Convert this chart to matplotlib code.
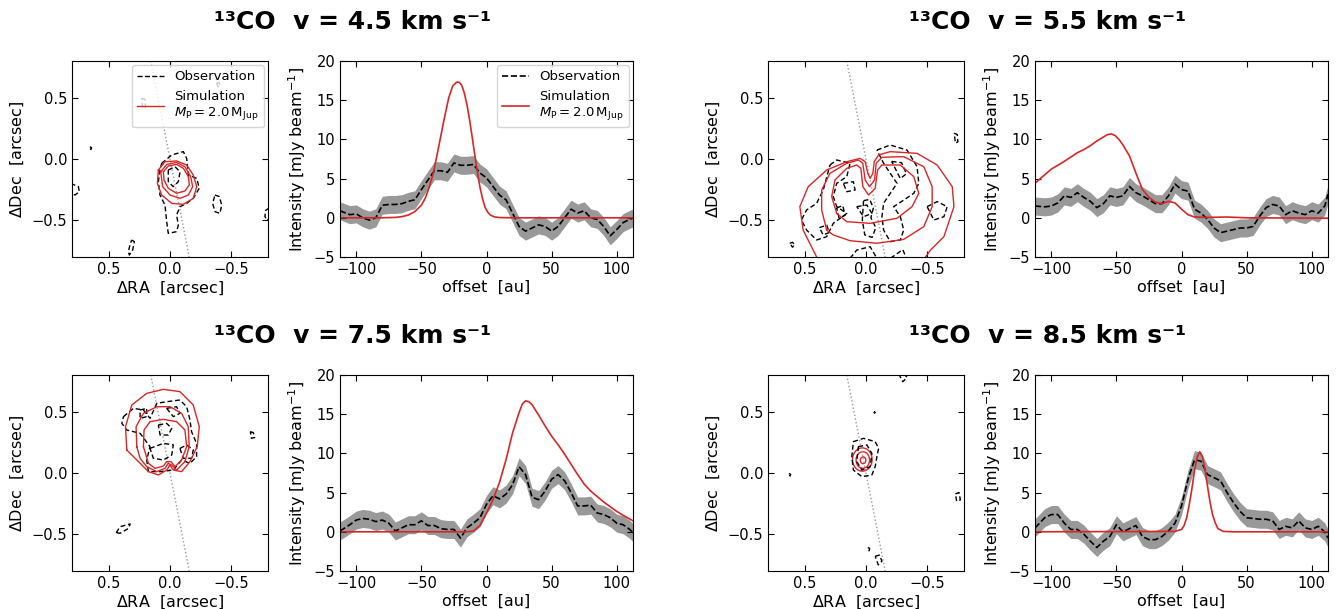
import numpy as np
import matplotlib
matplotlib.use("Agg")
import matplotlib.pyplot as plt
from matplotlib.patches import Ellipse

RED = "#d62728"

# channel velocities (km/s)
velocities = [4.5, 5.5, 7.5, 8.5]

# ---- line profiles along the cut ----
offset = [-112.5, -105, -100, -95, -90, -85, -80, -75, -70, -65, -60, -55, -50, -45,
          -40, -35, -30, -25, -20, -15, -10, -5, 0, 5, 10, 15, 20, 25, 30, 35, 40,
          45, 50, 55, 60, 65, 70, 75, 80, 85, 90, 95, 100, 105, 110, 112.5]
obs_err = 1.15

obs_45 = [0.9, 0.4, 0.5, 0.0, -0.3, 0.0, 1.6, 1.7, 1.7, 1.8, 2.1, 2.3, 3.6, 4.8,
          6.0, 6.0, 5.8, 7.0, 6.7, 6.7, 6.8, 5.7, 5.1, 4.0, 2.9, 2.3, 0.6, -1.1, -1.7, -1.3, -0.9,
          -1.1, -1.7, -1.1, 0.0, 1.1, 0.6, 0.9, 0.0, -0.2, -1.1, -2.3, -1.5, -0.6, -0.2, 0.0]
obs_55 = [1.5, 1.4, 1.5, 1.9, 2.8, 2.6, 3.2, 2.6, 2.1, 1.3, 1.8, 2.8, 2.6, 2.8,
          4.0, 3.2, 2.8, 2.3, 1.8, 1.8, 2.8, 4.3, 3.6, 3.4, 1.1, 0.6, -0.2, -1.3, -1.9, -1.7, -1.5,
          -1.3, -1.3, -1.1, 0.2, 1.3, 1.7, 1.5, 0.4, 0.9, 0.6, 0.4, 0.9, 0.6, 1.5, 3.0]
obs_75 = [0.1, 0.9, 1.5, 1.7, 1.6, 1.3, 1.5, 1.1, 0.1, 0.5, 0.9, 0.9, 1.4, 0.8,
          0.8, 0.4, 0.3, 0.3, -0.8, 0.5, 1.1, 1.8, 3.5, 4.6, 4.2, 4.8, 6.0, 8.3, 7.3, 4.4, 4.1,
          5.2, 6.7, 7.3, 6.5, 5.0, 3.3, 3.3, 3.4, 2.4, 2.2, 1.8, 1.1, 0.9, 0.3, -0.1]
obs_85 = [0.5, 1.8, 2.2, 2.2, 1.1, 0.3, 0.3, -0.3, -1.2, -2.0, -1.2, -0.6, 0.9, 0.0,
          0.4, 0.8, -0.6, -1.0, -1.0, -0.6, 0.1, 1.1, 3.3, 6.7, 9.2, 9.0, 7.3, 6.9, 6.5, 5.0, 3.7,
          2.6, 1.8, 1.7, 1.6, 1.6, 1.4, 0.3, 0.7, 0.5, 1.4, 0.5, 0.3, 0.7, 0.0, -0.8]

sim_x_45 = [-112.5, -80, -70, -65, -60, -55, -50, -47, -44, -41, -38, -35, -32, -29, -26,
            -23, -21, -19, -17, -15, -13, -11, -9, -7, -5, -3, -1, 1, 3, 6, 10, 20, 112.5]
sim_45 = [0, 0, 0.05, 0.15, 0.35, 0.8, 1.6, 2.5, 3.9, 5.6, 8.0, 10.5, 13.0, 15.3, 16.8,
          17.3, 17.3, 16.9, 15.9, 14.4, 12.5, 10.3, 8.0, 5.8, 3.9, 2.4, 1.3, 0.7, 0.35, 0.12,
          0.03, 0, 0]
sim_x_55 = [-112.5, -105, -100, -90, -80, -75, -70, -65, -60, -57, -54, -51, -48, -45,
            -40, -35, -30, -25, -20, -15, -10, -5, 0, 5, 10, 20, 35, 50, 112.5]
sim_55 = [4.4, 5.5, 6.2, 7.2, 8.3, 8.7, 9.2, 9.8, 10.3, 10.6, 10.7, 10.5, 10.0, 9.3,
          7.9, 5.7, 3.6, 2.6, 2.0, 1.8, 2.1, 1.9, 1.1, 0.4, 0.1, 0.05, 0.1, 0.0, -0.05]
sim_x_75 = [-112.5, -15, -10, -5, 0, 5, 10, 15, 20, 25, 27.5, 30, 32.5, 35, 40, 45, 50,
            55, 60, 65, 70, 75, 80, 85, 90, 95, 100, 105, 112.5]
sim_75 = [0, 0, 0.1, 0.8, 2.4, 4.1, 6.3, 9.2, 12.6, 15.2, 16.3, 16.7, 16.6, 16.2, 14.9,
          13.5, 12.2, 11.1, 9.9, 8.6, 7.3, 6.1, 5.2, 4.5, 3.8, 3.2, 2.6, 2.1, 1.4]
sim_x_85 = [-112.5, -5, 0, 2, 4, 6, 8, 10, 12, 14, 16, 18, 20, 22, 24, 26, 28, 32, 40, 112.5]
sim_85 = [0, 0.05, 0.3, 0.8, 1.8, 3.5, 5.5, 7.8, 9.5, 10.2, 9.6, 8.0, 5.8, 3.7, 2.1,
          1.1, 0.4, 0.05, 0, 0]

cut_ra = [0.157, -0.157]
cut_dec = [0.8, -0.8]

map45_sim = [
    ([0.095, 0.041, -0.054, -0.136, -0.190, -0.218, -0.190, -0.109, -0.014, 0.068, 0.103, 0.095],
     [-0.090, -0.022, -0.016, -0.049, -0.131, -0.226, -0.321, -0.370, -0.362, -0.294, -0.199, -0.090]),
    ([0.076, 0.027, -0.054, -0.122, -0.169, -0.185, -0.150, -0.082, 0.0, 0.060, 0.076],
     [-0.105, -0.045, -0.028, -0.063, -0.144, -0.226, -0.294, -0.321, -0.294, -0.226, -0.105]),
    ([0.054, 0.014, -0.054, -0.109, -0.150, -0.158, -0.122, -0.054, 0.014, 0.049, 0.054],
     [-0.105, -0.057, -0.044, -0.076, -0.144, -0.212, -0.261, -0.280, -0.239, -0.171, -0.105]),
]
map45_obs = [
    ([0.068, -0.014, -0.109, -0.136, -0.150, -0.218, -0.239, -0.190, -0.136, -0.082, -0.054,
      -0.068, -0.054, 0.014, 0.027, 0.041, 0.082, 0.095, 0.082, 0.068],
     [-0.036, 0.033, 0.060, 0.005, -0.131, -0.158, -0.239, -0.321, -0.362, -0.389, -0.457,
      -0.539, -0.593, -0.607, -0.512, -0.376, -0.294, -0.185, -0.090, -0.036]),
    ([0.014, -0.041, -0.082, -0.068, -0.027, 0.014, 0.014],
     [-0.090, -0.063, -0.105, -0.185, -0.226, -0.185, -0.090]),
    ([-0.367, -0.403, -0.422, -0.408, -0.367, -0.348, -0.367],
     [-0.294, -0.307, -0.376, -0.444, -0.430, -0.362, -0.294]),
    ([0.81, 0.748, 0.740, 0.776, 0.81], [-0.199, -0.226, -0.267, -0.294, -0.280]),
    ([0.655, 0.640, 0.645, 0.658, 0.655], [0.100, 0.092, 0.078, 0.085, 0.100]),
    ([0.313, 0.291, 0.305, 0.332, 0.340, 0.327, 0.313],
     [-0.661, -0.675, -0.743, -0.784, -0.756, -0.702, -0.661]),
    ([-0.81, -0.78, -0.775, -0.79, -0.81], [-0.40, -0.42, -0.47, -0.50, -0.49]),
    ([0.23, 0.205, 0.20, 0.225, 0.23], [0.495, 0.49, 0.42, 0.415, 0.495]),
    ([-0.38, -0.40, -0.41, -0.39, -0.38], [0.62, 0.625, 0.595, 0.59, 0.62]),
]

map55_sim = [
    ([0.403, 0.513, 0.54, 0.472, 0.321, 0.157, 0.048, 0.007, -0.015, -0.034, -0.056, -0.067,
      -0.103, -0.198, -0.417, -0.581, -0.704, -0.718, -0.636, -0.527, -0.486],
     [-0.8, -0.580, -0.389, -0.226, -0.090, -0.022, 0.005, -0.022, -0.117, -0.158, -0.117,
      -0.022, 0.033, 0.060, 0.046, -0.049, -0.226, -0.389, -0.634, -0.743, -0.8]),
    ([0.321, 0.362, 0.362, 0.294, 0.157, 0.061, 0.026, 0.007, -0.029, -0.070, -0.083, -0.130,
      -0.308, -0.472, -0.540, -0.540, -0.472, -0.308, -0.089, 0.130, 0.267, 0.321],
     [-0.580, -0.416, -0.253, -0.117, -0.035, -0.008, -0.035, -0.171, -0.226, -0.171, -0.035,
      0.014, 0.019, -0.063, -0.226, -0.389, -0.552, -0.656, -0.688, -0.667, -0.620, -0.580]),
    ([0.239, 0.280, 0.253, 0.157, 0.075, 0.042, 0.026, -0.021, -0.075, -0.094, -0.130, -0.280,
      -0.390, -0.431, -0.376, -0.253, -0.034, 0.157, 0.239],
     [-0.444, -0.307, -0.171, -0.076, -0.049, -0.076, -0.226, -0.294, -0.240, -0.090, -0.049,
      -0.049, -0.144, -0.280, -0.389, -0.484, -0.525, -0.512, -0.444]),
]
map55_obs = [
    ([0.294, 0.239, 0.130, 0.157, 0.239, 0.267, 0.239, 0.157, 0.267, 0.321, 0.403, 0.485,
      0.527, 0.485, 0.403, 0.349, 0.294],
     [-0.049, -0.008, -0.035, -0.144, -0.199, -0.307, -0.389, -0.444, -0.525, -0.634, -0.661,
      -0.580, -0.498, -0.416, -0.362, -0.253, -0.049]),
    ([0.185, 0.103, 0.089, 0.157, 0.185], [-0.199, -0.185, -0.253, -0.267, -0.199]),
    ([0.075, -0.007, -0.048, 0.020, 0.075], [-0.389, -0.376, -0.444, -0.471, -0.389]),
    ([-0.089, -0.198, -0.335, -0.417, -0.431, -0.390, -0.308, -0.226, -0.280, -0.308, -0.280,
      -0.198, -0.144, -0.130, -0.144, -0.198, -0.253, -0.198, -0.144, -0.089],
     [0.073, 0.114, 0.073, -0.063, -0.199, -0.280, -0.335, -0.389, -0.471, -0.580, -0.661,
      -0.675, -0.580, -0.471, -0.362, -0.280, -0.199, -0.117, -0.035, 0.073]),
    ([-0.499, -0.581, -0.663, -0.636, -0.554, -0.499], [-0.389, -0.348, -0.389, -0.471, -0.498, -0.389]),
    ([0.130, 0.075, -0.034, -0.089], [-0.81, -0.743, -0.716, -0.81]),
    ([-0.20, -0.30, -0.33], [-0.81, -0.74, -0.81]),
    ([0.622, 0.600, 0.581, 0.600, 0.622], [-0.688, -0.680, -0.700, -0.720, -0.688]),
    ([-0.72, -0.745, -0.75, -0.73, -0.72], [0.21, 0.20, 0.14, 0.13, 0.21]),
    ([0.02, -0.03, -0.06, -0.04, -0.08, -0.05, 0.01, 0.03, 0.02],
     [-0.34, -0.33, -0.40, -0.48, -0.56, -0.64, -0.62, -0.50, -0.34]),
    ([-0.21, -0.29, -0.33, -0.28, -0.21], [-0.02, -0.03, -0.12, -0.16, -0.02]),
    ([0.38, 0.32, 0.30, 0.35, 0.38], [-0.56, -0.54, -0.60, -0.62, -0.56]),
    ([0.24, 0.19, 0.17, 0.22, 0.24], [-0.40, -0.38, -0.46, -0.48, -0.40]),
]

map75_sim = [
    ([0.353, 0.363, 0.312, 0.190, 0.054, -0.081, -0.190, -0.239, -0.222, -0.163, -0.095,
      -0.027, 0.0, 0.027, 0.095, 0.176, 0.271, 0.353],
     [0.188, 0.378, 0.555, 0.650, 0.683, 0.664, 0.555, 0.378, 0.215, 0.093, 0.011, 0.024,
      0.065, 0.024, -0.016, 0.011, 0.106, 0.188]),
    ([0.271, 0.277, 0.217, 0.108, 0.0, -0.095, -0.149, -0.157, -0.122, -0.054, -0.014, 0.014,
      0.041, 0.108, 0.190, 0.244, 0.271],
     [0.215, 0.378, 0.487, 0.541, 0.541, 0.487, 0.378, 0.215, 0.093, 0.024, 0.065, 0.079,
      0.038, 0.011, 0.052, 0.120, 0.215]),
    ([0.217, 0.212, 0.163, 0.054, -0.054, -0.122, -0.136, -0.095, -0.041, -0.008, 0.027,
      0.054, 0.122, 0.176, 0.217],
     [0.215, 0.351, 0.419, 0.438, 0.419, 0.351, 0.215, 0.106, 0.052, 0.093, 0.093, 0.057,
      0.038, 0.079, 0.215]),
]
map75_obs = [
    ([0.380, 0.298, 0.217, 0.163, 0.108, 0.027, -0.081, -0.136, -0.163, -0.176, -0.217, -0.217,
      -0.163, -0.095, -0.027, 0.081, 0.176, 0.190, 0.163, 0.244, 0.353, 0.393, 0.380],
     [0.460, 0.528, 0.514, 0.446, 0.569, 0.582, 0.596, 0.541, 0.433, 0.337, 0.242, 0.133,
      0.079, 0.106, 0.024, 0.011, 0.011, 0.106, 0.215, 0.324, 0.351, 0.405, 0.460]),
    ([0.095, 0.027, -0.014, 0.014, 0.081, 0.095], [0.392, 0.405, 0.365, 0.310, 0.310, 0.392]),
    ([0.163, 0.054, -0.027, -0.014, 0.054, 0.136, 0.163], [0.201, 0.242, 0.229, 0.147, 0.106, 0.120, 0.201]),
    ([-0.081, -0.136, -0.190, -0.176, -0.108, -0.081], [0.201, 0.229, 0.188, 0.120, 0.120, 0.201]),
    ([0.027, -0.054, -0.081, -0.027, 0.027], [0.528, 0.541, 0.487, 0.460, 0.528]),
    ([0.244, 0.190, 0.190, 0.244, 0.244], [0.514, 0.528, 0.460, 0.446, 0.514]),
    ([0.439, 0.407, 0.325, 0.339, 0.407, 0.439], [-0.487, -0.438, -0.416, -0.452, -0.492, -0.487]),
    ([-0.656, -0.680, -0.691, -0.665, -0.656], [0.337, 0.330, 0.290, 0.283, 0.337]),
]

# 8.5 km/s: compact source, simulation contours as ellipses (center, width, height)
map85_sim_x = [0.030, 0.026, 0.024]
map85_sim_y = [0.110, 0.106, 0.104]
map85_sim_w = [0.160, 0.110, 0.045]
map85_sim_h = [0.190, 0.135, 0.055]
map85_obs = [
    ([0.103, 0.020, -0.075, -0.103, -0.089, -0.075, -0.048, 0.034, 0.103, 0.116, 0.103],
     [0.256, 0.283, 0.256, 0.201, 0.133, 0.052, -0.016, -0.030, 0.024, 0.133, 0.256]),
    ([0.062, -0.007, -0.048, -0.034, 0.034, 0.075, 0.062], [0.215, 0.229, 0.160, 0.052, 0.024, 0.093, 0.215]),
    ([0.630, 0.615, 0.620, 0.630], [-0.005, -0.010, -0.025, -0.005]),
    ([-0.065, -0.075, -0.070, -0.065], [0.500, 0.495, 0.488, 0.500]),
    ([-0.015, -0.030, -0.025, -0.015], [-0.610, -0.615, -0.635, -0.610]),
    ([-0.075, -0.11, -0.13, -0.10, -0.075], [-0.68, -0.67, -0.72, -0.75, -0.68]),
    ([-0.73, -0.76, -0.77, -0.74, -0.73], [-0.17, -0.16, -0.22, -0.23, -0.17]),
    ([-0.267, -0.30, -0.335, -0.31], [0.81, 0.745, 0.78, 0.81]),
]

obs_profiles = [obs_45, obs_55, obs_75, obs_85]
sim_xs = [sim_x_45, sim_x_55, sim_x_75, sim_x_85]
sim_profiles = [sim_45, sim_55, sim_75, sim_85]
map_obs = [map45_obs, map55_obs, map75_obs, map85_obs]
map_sim = [map45_sim, map55_sim, map75_sim, None]

sim_label = "Simulation\n$M_\\mathrm{P} = 2.0\\,\\mathrm{M_{Jup}}$"

W, H = 1341, 609
fig = plt.figure(figsize=(W / 100, H / 100), dpi=100)


def style(ax):
    ax.tick_params(direction="in", top=True, right=True, labelsize=10.5, length=4)


# panel geometry in pixels: map left, profile left, top of row
map_left = [72, 768, 72, 768]
prof_left = [340, 1035, 340, 1035]
row_top = [61, 61, 375, 375]
size = 196
prof_w = 293

for i, v in enumerate(velocities):
    ax = fig.add_axes([map_left[i] / W, (H - row_top[i] - size) / H, size / W, size / H])
    ax.plot(cut_ra, cut_dec, ls=":", color="0.6", lw=1)
    for xs, ys in map_obs[i]:
        ax.plot(xs, ys, ls="--", color="k", lw=1, dashes=(3.5, 2))
    if map_sim[i] is not None:
        for xs, ys in map_sim[i]:
            ax.plot(xs, ys, color=RED, lw=1)
    else:
        for cx, cy, w, h in zip(map85_sim_x, map85_sim_y, map85_sim_w, map85_sim_h):
            ax.add_patch(Ellipse((cx, cy), w, h, fill=False, ec=RED, lw=1))
    ax.set_xlim(0.8, -0.8)
    ax.set_ylim(-0.8, 0.8)
    ax.set_xticks([0.5, 0.0, -0.5])
    ax.set_yticks([-0.5, 0.0, 0.5])
    ax.set_xlabel(r"$\Delta$RA  [arcsec]", fontsize=11.5, labelpad=2)
    ax.set_ylabel(r"$\Delta$Dec  [arcsec]", fontsize=11.5)
    style(ax)
    if i == 0:
        ax.plot([], [], ls="--", color="k", lw=1, label="Observation")
        ax.plot([], [], color=RED, lw=1, label=sim_label)
        ax.legend(loc="upper right", fontsize=9.5, borderaxespad=0.3)

    ax2 = fig.add_axes([prof_left[i] / W, (H - row_top[i] - size) / H, prof_w / W, size / H])
    obs = np.array(obs_profiles[i])
    ax2.fill_between(offset, obs - obs_err, obs + obs_err, color="0.6", lw=0)
    ax2.plot(offset, obs, ls="--", color="k", lw=1.2, label="Observation")
    ax2.plot(sim_xs[i], sim_profiles[i], color=RED, lw=1.2, label=sim_label)
    ax2.set_xlim(-112.5, 112.5)
    ax2.set_ylim(-5, 20)
    ax2.set_xticks([-100, -50, 0, 50, 100])
    ax2.set_yticks([-5, 0, 5, 10, 15, 20])
    ax2.set_xlabel("offset  [au]", fontsize=11.5, labelpad=2)
    ax2.set_ylabel("Intensity [mJy beam$^{-1}$]", fontsize=11.5)
    style(ax2)
    if i == 0:
        ax2.legend(loc="upper right", fontsize=9.5, borderaxespad=0.3)

    cx = (map_left[i] + prof_left[i] + prof_w) / 2 / W
    ty = 1 - (row_top[i] - 39) / H
    fig.text(cx, ty, "\u00b9\u00b3CO  v = %.1f km s\u207b\u00b9" % v,
             ha="center", va="center", fontsize=18, fontweight="bold")

fig.savefig("out.png", dpi=100)
